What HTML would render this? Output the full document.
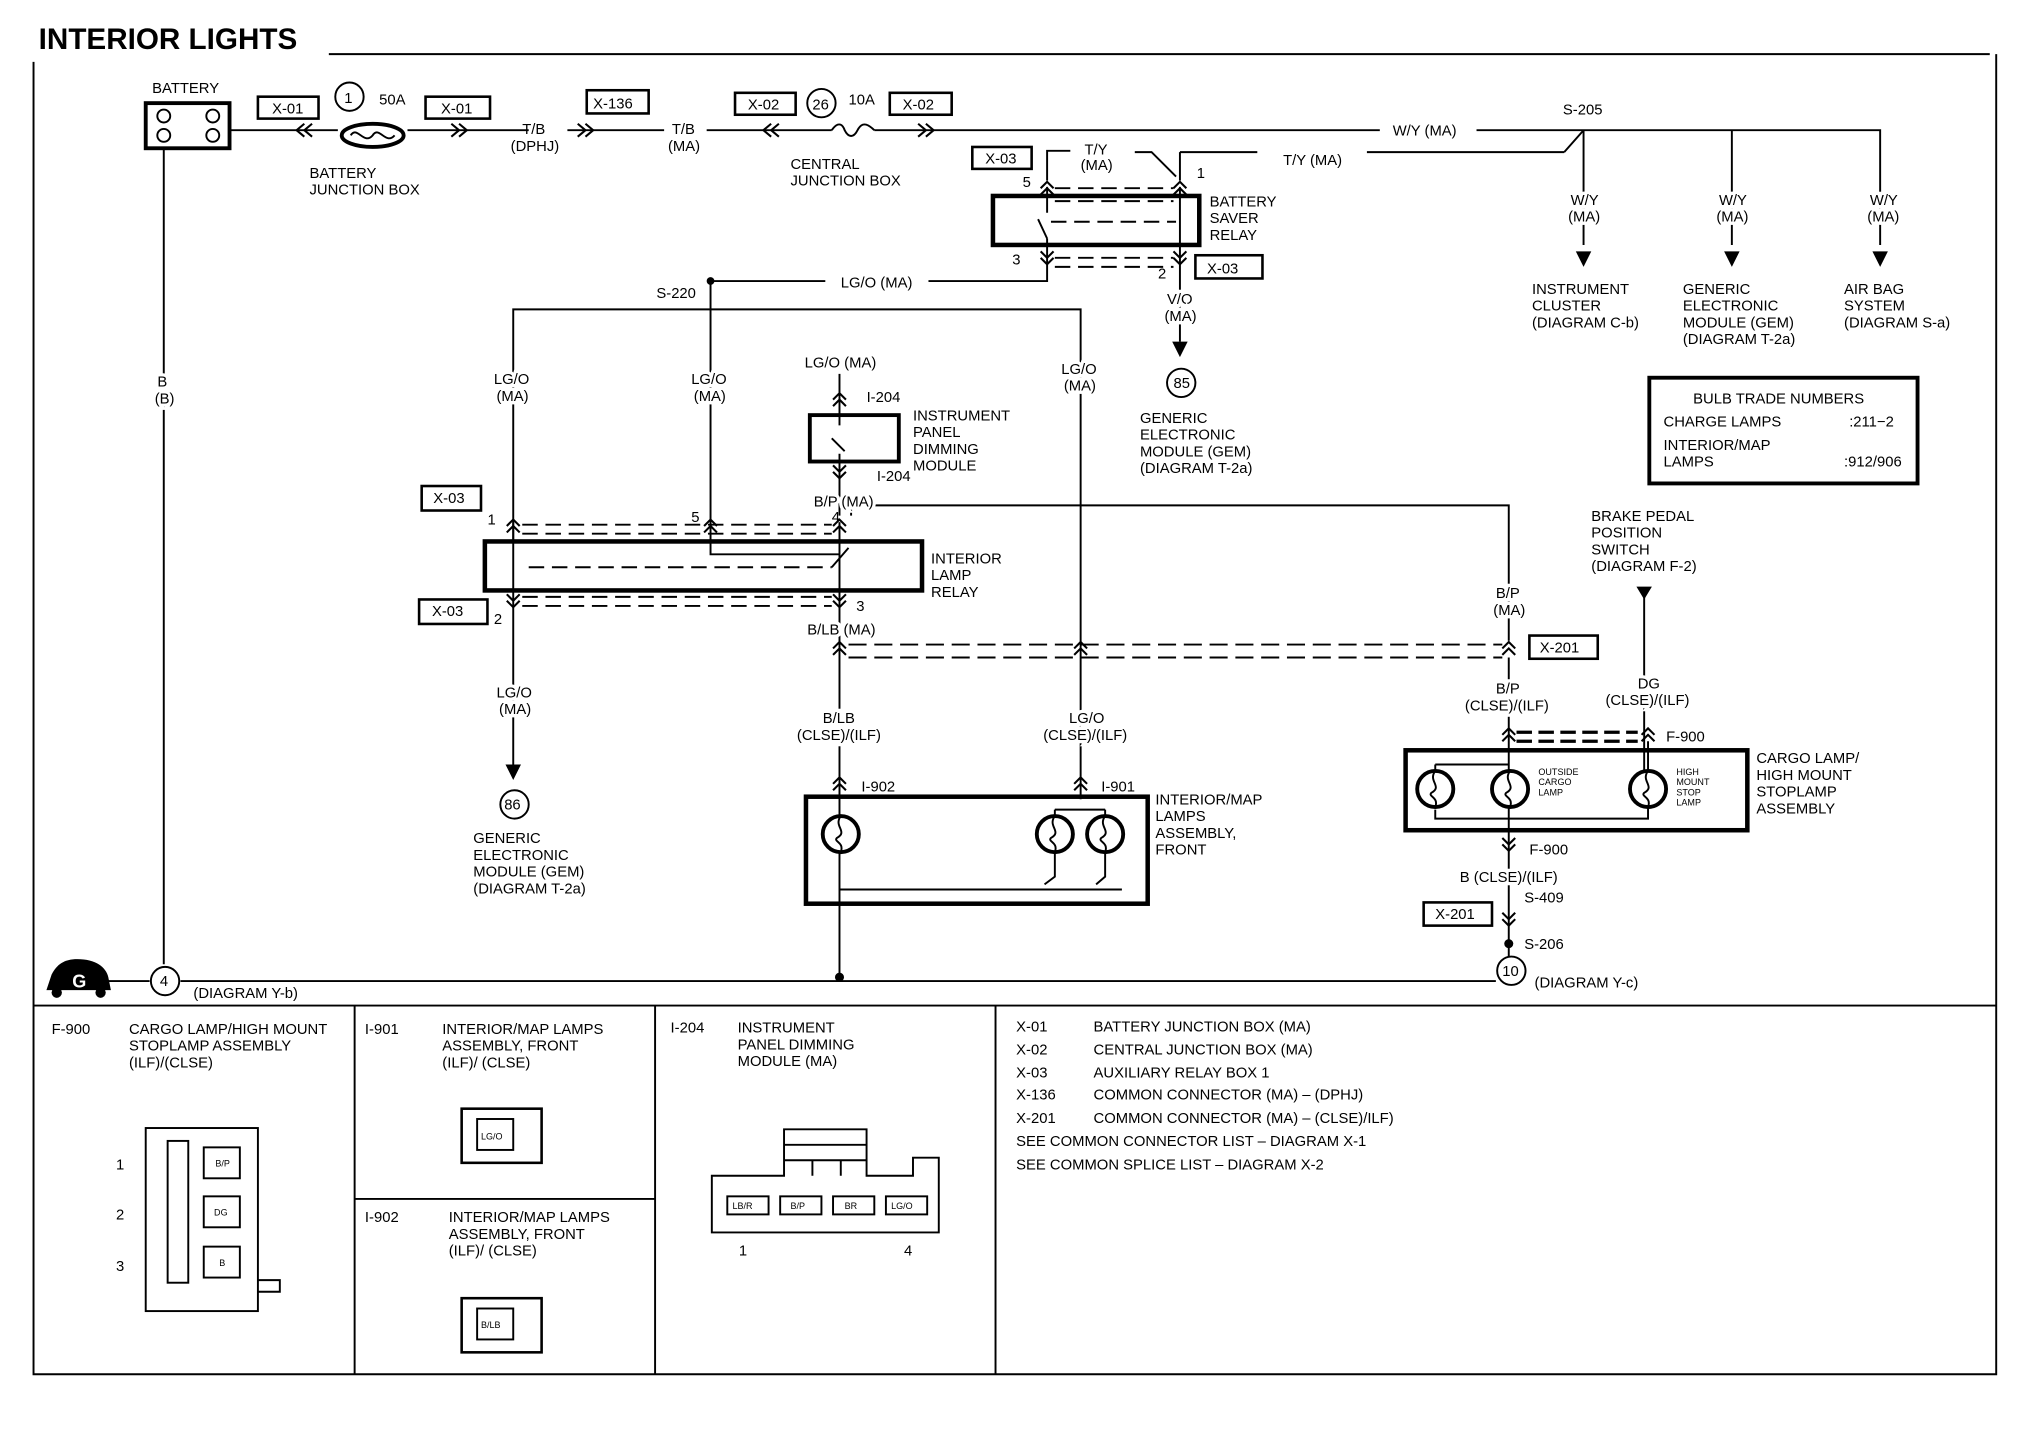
<!DOCTYPE html>
<html><head><style>
html,body{margin:0;padding:0;background:#fff}
svg{display:block}
text{font-family:"Liberation Sans",Arial,sans-serif;font-size:11.5px;fill:#000}
.b{font-weight:bold}
.s{font-size:7px}
.w{paint-order:stroke;stroke:#fff;stroke-width:5px}
</style></head><body>
<svg width="2022" height="1440" viewBox="0 0 1568 1117" preserveAspectRatio="none" xmlns="http://www.w3.org/2000/svg">
<defs>
<g id="cd"><path d="M-5,-5 L0,0 L5,-5 M-5,0 L0,5 L5,0" fill="none" stroke="#000" stroke-width="1.6"/></g>
<g id="cu"><path d="M-5,0 L0,-5 L5,0 M-5,5 L0,0 L5,5" fill="none" stroke="#000" stroke-width="1.6"/></g>
<g id="lamp"><circle r="14" fill="#fff" stroke="#000" stroke-width="3"/><path d="M0,-14 C-6,-6 6,-2 -3,3 C-6,6 3,6 0,14" fill="none" stroke="#000" stroke-width="1.5"/></g>
</defs>
<g fill="none" stroke="#000" stroke-width="1.5">
<path d="M255,42 H1543 M26,48 V1066 H1548 V42" stroke-width="1.5"/>
<path d="M26,780 H1548 M275,780 V1066 M508,780 V1066 M772,780 V1066 M275,930 H508"/>
<rect x="113" y="80" width="65" height="35" stroke-width="3"/>
<circle cx="127" cy="90" r="5"/><circle cx="165" cy="90" r="5"/><circle cx="127" cy="105" r="5"/><circle cx="165" cy="105" r="5"/>
<path d="M127,115 V748 M75,761 H116 M140,761 H1160 M178,101 H262 M316,101 H410 M440,101 H515 M548,101 H645 M678,101 H1070 M1145,101 H1458 V190"/>
<ellipse cx="289" cy="105" rx="24" ry="9" stroke-width="3"/><path d="M272,105 c5,-8 10,8 17,0 c5,-8 10,8 17,0"/>
<path d="M645,101 c4,-6 8,-6 10,0 c3,6 7,6 10,0 c3,-6 7,-6 13,0"/>
<path d="M1228,101 V190 M1343,101 V190"/>
<path d="M1213,118 L1228,101 M1060,118 H1213 M915,118 H975 M915,118 V140 M812,140 V117 H830 M880,118 H893 L912,137"/>
<rect x="770" y="152" width="160" height="38" stroke-width="3.5"/>
<path d="M812,145 V165 M915,145 V200 M812,185 V218 H720 M640,218 H551 M915,200 V265 M805,170 L812,185"/>
<path d="M818,146 H910 M818,156 H910 M815,172 H912 M818,200 H910 M818,207 H910" stroke-dasharray="12,6"/>
<path d="M551,218 V420 M551,240 H398 V420 M551,240 H838 V600"/>
<rect x="628" y="322" width="69" height="36" stroke-width="3"/>
<path d="M651,290 V330 M645,340 L655,350 M651,352 V400 M660,400 V392 H1170 V497"/>
<rect x="376" y="420" width="339" height="38" stroke-width="3.5"/>
<path d="M398,405 V470 M651,405 V470 M551,420 V430 H651 M645,440 L658,425"/>
<path d="M405,407 H645 M405,414 H645 M410,440 H645 M405,463 H645 M405,470 H645" stroke-dasharray="12,6"/>
<path d="M398,470 V595 M651,470 V760 M838,600 V620"/>
<path d="M658,500 H1165 M658,510 H1165" stroke-dasharray="14,6"/>
<path d="M1170,510 V760"/>
<path d="M1176,568 H1270 M1176,575 H1270" stroke-dasharray="12,5" stroke-width="2.5"/>
<path d="M1275,460 V612"/>
<rect x="625" y="618" width="265" height="83" stroke-width="3.5"/>
<path d="M818,628 H857 M818,628 V645 M857,628 V645 M818,660 V680 L810,686 M857,660 V680 L850,686 M810,690 H830 M850,690 H868 M651,690 H870"/>
<rect x="1090" y="582" width="265" height="62" stroke-width="3.5"/>
<path d="M1113,593 H1170 M1113,593 V600 M1113,628 V635 H1278 V625 M1278,575 V600"/>
<rect x="1279" y="293" width="208" height="82" stroke-width="3"/>
<rect x="200" y="75" width="47" height="17" stroke-width="2"/><rect x="330" y="75" width="50" height="17" stroke-width="2"/>
<rect x="455" y="70" width="48" height="18" stroke-width="2"/><rect x="570" y="72" width="47" height="17" stroke-width="2"/>
<rect x="690" y="72" width="48" height="17" stroke-width="2"/><rect x="754" y="114" width="46" height="17" stroke-width="2"/>
<rect x="927" y="198" width="52" height="18" stroke-width="2"/><rect x="327" y="377" width="46" height="19" stroke-width="2"/>
<rect x="325" y="465" width="53" height="19" stroke-width="2"/><rect x="1186" y="493" width="53" height="18" stroke-width="2"/>
<rect x="1104" y="700" width="53" height="18" stroke-width="2"/>
<circle cx="271" cy="75" r="11"/><circle cx="637" cy="80" r="11"/><circle cx="916" cy="297" r="11"/>
<circle cx="399" cy="624" r="11"/><circle cx="128" cy="761" r="11" fill="#fff"/><circle cx="1172" cy="753" r="11" fill="#fff"/>
<rect x="113" y="875" width="87" height="142"/><rect x="130" y="885" width="16" height="110"/>
<rect x="158" y="890" width="28" height="24"/><rect x="158" y="928" width="28" height="24"/><rect x="158" y="967" width="28" height="24"/>
<path d="M200,993 H217 V1002 H200"/>
<rect x="358" y="860" width="62" height="42" stroke-width="2"/><rect x="370" y="868" width="28" height="24"/>
<rect x="358" y="1007" width="62" height="42" stroke-width="2"/><rect x="370" y="1015" width="28" height="24"/>
<path d="M552,912 H608 V876 H672 V912 H708 V898 H728 V956 H552 Z M608,888 H672 M608,900 H672 M630,900 V912 M652,900 V912"/>
<rect x="564" y="928" width="32" height="14"/><rect x="605" y="928" width="32" height="14"/><rect x="646" y="928" width="32" height="14"/><rect x="687" y="928" width="32" height="14"/>
</g>
<g fill="none" stroke="#000" stroke-width="1.6">
<path d="M236,96 L230,101 L236,106 M242,96 L236,101 L242,106 M350,96 L356,101 L350,106 M356,96 L362,101 L356,106 M448,96 L454,101 L448,106 M454,96 L460,101 L454,106 M598,96 L592,101 L598,106 M604,96 L598,101 L604,106 M712,96 L718,101 L712,106 M718,96 L724,101 L718,106"/>
</g>
<use href="#cu" x="812" y="146"/><use href="#cu" x="915" y="146"/>
<use href="#cd" x="812" y="200"/><use href="#cd" x="915" y="200"/>
<use href="#cu" x="398" y="408"/><use href="#cu" x="551" y="408"/><use href="#cu" x="651" y="408"/>
<use href="#cd" x="398" y="466"/><use href="#cd" x="651" y="466"/>
<use href="#cu" x="651" y="503"/><use href="#cu" x="838" y="503"/><use href="#cu" x="1170" y="503"/>
<use href="#cu" x="651" y="608"/><use href="#cu" x="838" y="608"/><use href="#cu" x="651" y="310"/><use href="#cd" x="651" y="366"/>
<use href="#cu" x="1170" y="570"/><use href="#cu" x="1278" y="570"/><use href="#cd" x="1170" y="655"/><use href="#cd" x="1170" y="713"/>
<g fill="#000">
<path d="M1222,195 h12 l-6,12z M1337,195 h12 l-6,12z M1452,195 h12 l-6,12z M909,265 h12 l-6,12z M392,593 h12 l-6,12z M1269,455 h12 l-6,10z"/>
<circle cx="551" cy="218" r="3"/><circle cx="651" cy="758" r="3.5"/><circle cx="1170" cy="680" r="3.5"/><circle cx="1170" cy="732" r="3.5"/>
<path d="M36,768 L40,756 C44,748 50,744 60,744 C74,744 82,750 84,758 L86,768 Z"/><circle cx="44" cy="770" r="4"/><circle cx="78" cy="770" r="4"/>
</g>
<use href="#lamp" x="652" y="647"/><use href="#lamp" x="818" y="647"/><use href="#lamp" x="857" y="647"/>
<use href="#lamp" x="1113" y="612"/><use href="#lamp" x="1171" y="612"/><use href="#lamp" x="1278" y="612"/>
<text x="56" y="766" style="fill:#fff;font-weight:bold;font-size:14px">G</text>
<text x="30" y="38" class="b" style="font-size:23px">INTERIOR LIGHTS</text>
<g>
<text x="118" y="72">BATTERY</text><text x="211" y="88">X-01</text><text x="342" y="88">X-01</text><text x="267" y="80">1</text><text x="294" y="81">50A</text>
<text x="240" y="138">BATTERY</text><text x="240" y="151">JUNCTION BOX</text>
<text x="405" y="104">T/B</text><text x="396" y="117">(DPHJ)</text><text x="460" y="84">X-136</text><text x="521" y="104">T/B</text><text x="518" y="117">(MA)</text>
<text x="580" y="85">X-02</text><text x="630" y="85">26</text><text x="658" y="81">10A</text><text x="700" y="85">X-02</text>
<text x="613" y="131">CENTRAL</text><text x="613" y="144">JUNCTION BOX</text>
<text x="1080" y="105">W/Y (MA)</text><text x="1212" y="89">S-205</text>
<text x="764" y="127">X-03</text><text x="841" y="120">T/Y</text><text x="838" y="132">(MA)</text><text x="995" y="128">T/Y (MA)</text>
<text x="793" y="145">5</text><text x="928" y="138">1</text><text x="785" y="205">3</text><text x="898" y="216">2</text><text x="936" y="212">X-03</text>
<text x="938" y="160">BATTERY</text><text x="938" y="173">SAVER</text><text x="938" y="186">RELAY</text>
<text x="905" y="236" class="w">V/O</text><text x="903" y="249" class="w">(MA)</text><text x="910" y="301">85</text>
<text x="884" y="328">GENERIC</text><text x="884" y="341">ELECTRONIC</text><text x="884" y="354">MODULE (GEM)</text><text x="884" y="367">(DIAGRAM T-2a)</text>
<text x="1218" y="159" class="w">W/Y</text><text x="1216" y="172" class="w">(MA)</text><text x="1333" y="159" class="w">W/Y</text><text x="1331" y="172" class="w">(MA)</text><text x="1450" y="159" class="w">W/Y</text><text x="1448" y="172" class="w">(MA)</text>
<text x="1188" y="228">INSTRUMENT</text><text x="1188" y="241">CLUSTER</text><text x="1188" y="254">(DIAGRAM C-b)</text>
<text x="1305" y="228">GENERIC</text><text x="1305" y="241">ELECTRONIC</text><text x="1305" y="254">MODULE (GEM)</text><text x="1305" y="267">(DIAGRAM T-2a)</text>
<text x="1430" y="228">AIR BAG</text><text x="1430" y="241">SYSTEM</text><text x="1430" y="254">(DIAGRAM S-a)</text>
<text x="1313" y="313">BULB TRADE NUMBERS</text><text x="1290" y="331">CHARGE LAMPS</text><text x="1434" y="331">:211−2</text>
<text x="1290" y="349">INTERIOR/MAP</text><text x="1290" y="362">LAMPS</text><text x="1430" y="362">:912/906</text>
<text x="509" y="231">S-220</text><text x="652" y="223">LG/O (MA)</text>
<text x="383" y="298" class="w">LG/O</text><text x="385" y="311" class="w">(MA)</text><text x="536" y="298" class="w">LG/O</text><text x="538" y="311" class="w">(MA)</text>
<text x="624" y="285">LG/O (MA)</text><text x="823" y="290" class="w">LG/O</text><text x="825" y="303" class="w">(MA)</text>
<text x="672" y="312">I-204</text><text x="680" y="373">I-204</text>
<text x="708" y="326">INSTRUMENT</text><text x="708" y="339">PANEL</text><text x="708" y="352">DIMMING</text><text x="708" y="365">MODULE</text>
<text x="631" y="393" class="w">B/P (MA)</text><text x="645" y="405">4</text><text x="536" y="405">5</text><text x="378" y="407">1</text>
<text x="336" y="390">X-03</text><text x="335" y="478">X-03</text><text x="383" y="484">2</text><text x="664" y="474">3</text>
<text x="722" y="437">INTERIOR</text><text x="722" y="450">LAMP</text><text x="722" y="463">RELAY</text>
<text x="626" y="492" class="w">B/LB (MA)</text><text x="385" y="541" class="w">LG/O</text><text x="387" y="554" class="w">(MA)</text><text x="391" y="628">86</text>
<text x="367" y="654">GENERIC</text><text x="367" y="667">ELECTRONIC</text><text x="367" y="680">MODULE (GEM)</text><text x="367" y="693">(DIAGRAM T-2a)</text>
<text x="638" y="561" class="w">B/LB</text><text x="618" y="574" class="w">(CLSE)/(ILF)</text><text x="829" y="561" class="w">LG/O</text><text x="809" y="574" class="w">(CLSE)/(ILF)</text>
<text x="668" y="614">I-902</text><text x="854" y="614">I-901</text>
<text x="896" y="624">INTERIOR/MAP</text><text x="896" y="637">LAMPS</text><text x="896" y="650">ASSEMBLY,</text><text x="896" y="663">FRONT</text>
<text x="1160" y="464" class="w">B/P</text><text x="1158" y="477" class="w">(MA)</text><text x="1194" y="506">X-201</text>
<text x="1234" y="404">BRAKE PEDAL</text><text x="1234" y="417">POSITION</text><text x="1234" y="430">SWITCH</text><text x="1234" y="443">(DIAGRAM F-2)</text>
<text x="1160" y="538" class="w">B/P</text><text x="1136" y="551" class="w">(CLSE)/(ILF)</text><text x="1270" y="534" class="w">DG</text><text x="1245" y="547" class="w">(CLSE)/(ILF)</text>
<text x="1292" y="575">F-900</text><text x="1186" y="663">F-900</text>
<text x="1362" y="592">CARGO LAMP/</text><text x="1362" y="605">HIGH MOUNT</text><text x="1362" y="618">STOPLAMP</text><text x="1362" y="631">ASSEMBLY</text>
<text x="1193" y="601" class="s">OUTSIDE</text><text x="1193" y="609" class="s">CARGO</text><text x="1193" y="617" class="s">LAMP</text>
<text x="1300" y="601" class="s">HIGH</text><text x="1300" y="609" class="s">MOUNT</text><text x="1300" y="617" class="s">STOP</text><text x="1300" y="625" class="s">LAMP</text>
<text x="1132" y="684" class="w">B (CLSE)/(ILF)</text><text x="1182" y="700">S-409</text><text x="1113" y="713">X-201</text><text x="1182" y="736">S-206</text>
<text x="1165" y="757">10</text><text x="1190" y="766">(DIAGRAM Y-c)</text><text x="124" y="765">4</text><text x="150" y="774">(DIAGRAM Y-b)</text>
<text x="122" y="300" class="w">B</text><text x="120" y="313" class="w">(B)</text>
<text x="40" y="802">F-900</text><text x="100" y="802">CARGO LAMP/HIGH MOUNT</text><text x="100" y="815">STOPLAMP ASSEMBLY</text><text x="100" y="828">(ILF)/(CLSE)</text>
<text x="90" y="907">1</text><text x="90" y="946">2</text><text x="90" y="986">3</text>
<text x="167" y="905" class="s">B/P</text><text x="166" y="943" class="s">DG</text><text x="170" y="982" class="s">B</text>
<text x="283" y="802">I-901</text><text x="343" y="802">INTERIOR/MAP LAMPS</text><text x="343" y="815">ASSEMBLY, FRONT</text><text x="343" y="828">(ILF)/ (CLSE)</text>
<text x="373" y="884" class="s">LG/O</text>
<text x="283" y="948">I-902</text><text x="348" y="948">INTERIOR/MAP LAMPS</text><text x="348" y="961">ASSEMBLY, FRONT</text><text x="348" y="974">(ILF)/ (CLSE)</text>
<text x="373" y="1030" class="s">B/LB</text>
<text x="520" y="801">I-204</text><text x="572" y="801">INSTRUMENT</text><text x="572" y="814">PANEL DIMMING</text><text x="572" y="827">MODULE (MA)</text>
<text x="568" y="938" class="s">LB/R</text><text x="613" y="938" class="s">B/P</text><text x="655" y="938" class="s">BR</text><text x="691" y="938" class="s">LG/O</text>
<text x="573" y="974">1</text><text x="701" y="974">4</text>
<text x="788" y="800">X-01</text><text x="848" y="800">BATTERY JUNCTION BOX (MA)</text>
<text x="788" y="818">X-02</text><text x="848" y="818">CENTRAL JUNCTION BOX (MA)</text>
<text x="788" y="836">X-03</text><text x="848" y="836">AUXILIARY RELAY BOX 1</text>
<text x="788" y="853">X-136</text><text x="848" y="853">COMMON CONNECTOR  (MA) – (DPHJ)</text>
<text x="788" y="871">X-201</text><text x="848" y="871">COMMON CONNECTOR (MA) – (CLSE)/ILF)</text>
<text x="788" y="889">SEE COMMON CONNECTOR LIST – DIAGRAM X-1</text>
<text x="788" y="907">SEE COMMON SPLICE LIST – DIAGRAM X-2</text>
</g>
</svg>
</body></html>
